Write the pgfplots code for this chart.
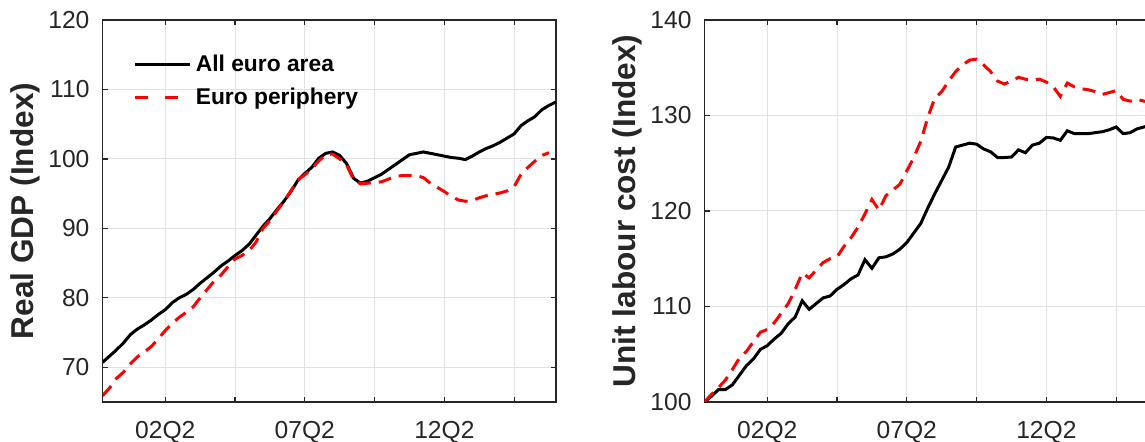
\documentclass[border=0pt]{standalone}
\usepackage{fontspec}
\setmainfont{Liberation Sans}
\usepackage{pgfplots}
\usepackage{pgfplotstable}
\pgfplotsset{compat=1.18}
\definecolor{axgray}{HTML}{262626}
\definecolor{gridgray}{HTML}{E2E2E2}

\pgfplotstableread{
t gdpea gdpper
0 70.7 65.9
1 71.6 67.0
2 72.5 68.4
3 73.5 69.3
4 74.7 70.5
5 75.5 71.5
6 76.1 72.2
7 76.8 73.0
8 77.6 74.1
9 78.3 75.3
10 79.3 76.3
11 80.0 77.2
12 80.5 77.9
13 81.2 78.7
14 82.1 80.0
15 82.9 81.2
16 83.7 82.4
17 84.6 83.3
18 85.3 84.5
19 86.1 85.6
20 86.8 86.1
21 87.7 86.8
22 89.0 88.0
23 90.3 90.0
24 91.4 91.1
25 92.7 92.5
26 93.9 93.9
27 95.3 95.4
28 96.9 97.0
29 97.9 97.7
30 98.8 98.6
31 100.1 99.7
32 100.8 100.6
33 101.0 100.7
34 100.5 100.0
35 99.3 99.1
36 97.2 97.0
37 96.5 96.4
38 96.8 96.5
39 97.3 96.6
40 97.8 96.7
41 98.5 97.1
42 99.2 97.5
43 99.9 97.6
44 100.6 97.6
45 100.8 97.6
46 101.0 97.3
47 100.8 96.5
48 100.6 95.9
49 100.4 95.3
50 100.2 94.6
51 100.1 94.1
52 99.9 93.9
53 100.4 94.0
54 101.0 94.4
55 101.5 94.7
56 101.9 94.9
57 102.4 95.1
58 103.0 95.4
59 103.6 96.0
60 104.8 97.8
61 105.5 98.8
62 106.1 99.7
63 107.1 100.5
64 107.7 100.9
65 108.2 nan
}\gdp

\pgfplotstableread{
t ulcea ulcper
0 100.0 100.0
1 100.6 100.8
2 101.3 101.5
3 101.3 102.3
4 101.8 103.4
5 102.8 104.6
6 103.8 105.3
7 104.5 106.3
8 105.5 107.3
9 105.9 107.6
10 106.6 108.3
11 107.2 109.3
12 108.2 110.3
13 108.9 111.8
14 110.6 113.5
15 109.7 113.0
16 110.3 113.8
17 110.9 114.6
18 111.1 115.0
19 111.8 115.2
20 112.3 116.3
21 112.9 117.2
22 113.3 118.3
23 114.9 119.7
24 114.0 121.2
25 115.1 120.1
26 115.2 121.6
27 115.5 122.2
28 116.0 122.8
29 116.7 124.2
30 117.7 125.6
31 118.7 127.3
32 120.3 129.8
33 121.8 131.8
34 123.2 132.5
35 124.6 133.6
36 126.7 134.6
37 126.9 135.3
38 127.1 135.8
39 127.0 135.9
40 126.5 135.3
41 126.2 134.6
42 125.6 133.6
43 125.6 133.3
44 125.65 133.6
45 126.4 134.0
46 126.1 133.8
47 126.9 133.7
48 127.1 133.8
49 127.7 133.5
50 127.65 133.0
51 127.4 132.0
52 128.4 133.4
53 128.1 133.0
54 128.1 132.8
55 128.1 132.7
56 128.2 132.5
57 128.3 132.2
58 128.5 132.4
59 128.8 132.6
60 128.1 131.7
61 128.2 131.5
62 128.6 131.7
63 128.8 131.5
64 129.0 131.4
65 129.2 131.3
}\ulc

\pgfplotsset{mystyle/.style={
  scale only axis, width=226.75pt, height=191pt,
  xmin=0, xmax=65,
  xtick={9,19,29,39,49,59}, xticklabels={02Q2,,07Q2,,12Q2,},
  grid=major, major grid style={gridgray, line width=0.5pt},
  axis line style={axgray, line width=0.6pt},
  tick style={axgray, line width=0.6pt},
  major tick length=2.5pt,
  tick align=inside, tick pos=both,
  ticklabel style={font=\fontsize{12.3}{14}\selectfont, text=axgray},
  xticklabel style={yshift=-6pt},
  yticklabel style={xshift=-3pt},
  /pgf/number format/assume math mode=true,
  ylabel style={font=\bfseries\fontsize{15.8}{18}\selectfont, text=axgray,
    at={(axis description cs:-0.171,0.5)}, anchor=center},
  eaplot/.style={black, line width=1.5pt},
  perplot/.style={red, line width=1.5pt, dash pattern=on 6.5pt off 4pt},
  perlegend/.style={legend image code/.code={\draw[##1, dash pattern=on 6.5pt off 8.5pt] (0pt,0pt) -- (21.5pt,0pt);}},
}}

\begin{document}
\begin{tikzpicture}
\begin{axis}[mystyle, at={(51.25pt,20pt)}, anchor=south west,
  ymin=65, ymax=120, ytick={70,80,...,120},
  ylabel={Real GDP (Index)},
  legend style={draw=none, fill=none, at={(0.055,0.84)}, anchor=west,
    font=\bfseries\fontsize{11.4}{13}\selectfont, row sep=3pt},
  legend cell align=left,
  legend image code/.code={\draw[#1] (0pt,0pt) -- (27.5pt,0pt);},
  unbounded coords=jump]
\addplot[eaplot] table[x=t, y=gdpea] {\gdp};
\addlegendentry{All euro area}
\addplot[perplot, perlegend] table[x=t, y=gdpper] {\gdp};
\addlegendentry{Euro periphery}
\end{axis}
\begin{axis}[mystyle, at={(352.25pt,20pt)}, anchor=south west,
  ymin=100, ymax=140, ytick={100,110,...,140},
  ylabel={Unit labour cost (Index)}]
\addplot[eaplot] table[x=t, y=ulcea] {\ulc};
\addplot[perplot] table[x=t, y=ulcper] {\ulc};
\end{axis}
\pgfresetboundingbox
\useasboundingbox (0pt,0pt) rectangle (572.5pt,221pt);
\end{tikzpicture}
\end{document}
